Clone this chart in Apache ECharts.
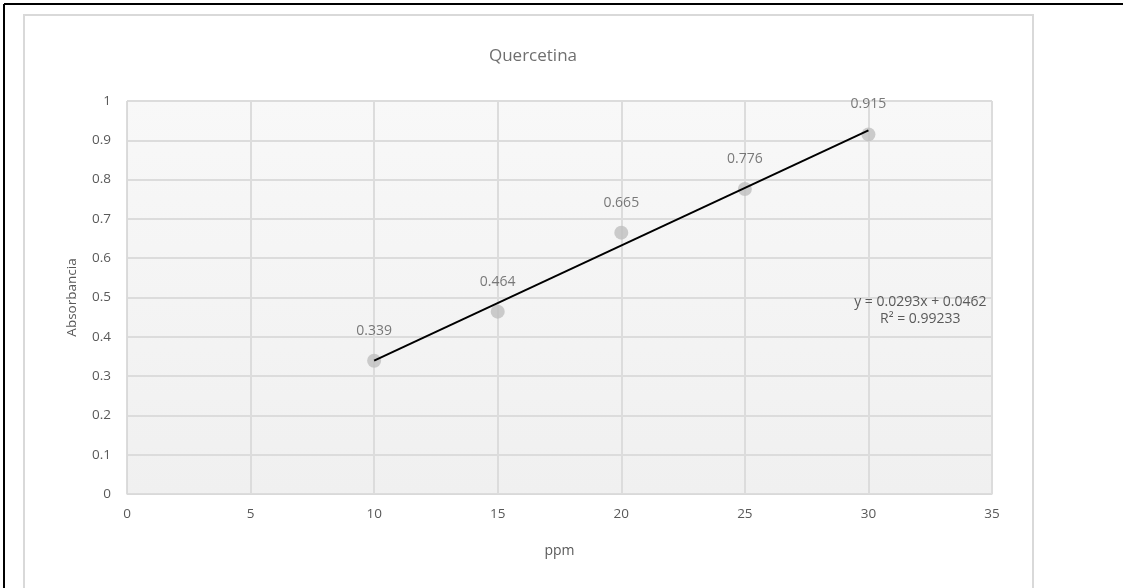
<!DOCTYPE html>
<html><head><meta charset="utf-8">
<script src="https://cdn.jsdelivr.net/npm/echarts@6/dist/echarts.min.js"></script>
<style>html,body{margin:0;padding:0;background:#fff}#c{width:1123px;height:588px}</style>
</head><body><div id="c"></div>
<script>
const ppm = [10, 15, 20, 25, 30];
const absorbancia = [0.339, 0.464, 0.665, 0.776, 0.915];
const slope = 0.0293, intercept = 0.0462;
const trendX = [10, 30];
const eqLines = ['y = 0.0293x + 0.0462', 'R² = 0.99233'];
const chart = echarts.init(document.getElementById('c'));
const txt = '#595959';
const font = "'Open Sans', 'Noto Sans', sans-serif";
chart.setOption({
  animation: false,
  backgroundColor: '#fff',
  title: { text: 'Quercetina', left: 528, top: 43, textAlign: 'center',
    textStyle: { color: '#6f6f6f', fontSize: 17, fontWeight: 'normal', fontFamily: font } },
  graphic: [
    { type: 'rect', shape: { x: 24, y: 15, width: 1009, height: 600 }, style: { fill: 'none', stroke: '#d9d9d9', lineWidth: 2 }, z: -1 },
    { type: 'line', shape: { x1: 4, y1: 4, x2: 1123, y2: 4 }, style: { stroke: '#000', lineWidth: 2 } },
    { type: 'line', shape: { x1: 4, y1: 4, x2: 4, y2: 588 }, style: { stroke: '#000', lineWidth: 2 } }
  ],
  grid: { left: 127, top: 101, width: 865, height: 393, show: true,
    backgroundColor: { type: 'linear', x: 0, y: 0, x2: 0, y2: 1, colorStops: [{offset:0,color:'#f8f8f8'},{offset:1,color:'#f0f0f0'}] },
    borderColor: '#d9d9d9', borderWidth: 1 },
  xAxis: { type: 'value', min: 0, max: 35, interval: 5, name: 'ppm', nameLocation: 'middle', nameGap: 50,
    nameTextStyle: { color: txt, fontSize: 14, fontFamily: font },
    axisLine: { show: true, lineStyle: { color: '#d9d9d9' } }, axisTick: { show: false },
    axisLabel: { color: txt, fontSize: 13.5, fontFamily: font, margin: 13 },
    splitLine: { show: true, lineStyle: { color: '#dcdcdc', width: 2 } } },
  yAxis: { type: 'value', min: 0, max: 1, interval: 0.1, name: 'Absorbancia', nameLocation: 'middle', nameGap: 48,
    nameTextStyle: { color: txt, fontSize: 13.5, fontFamily: font },
    axisLine: { show: true, lineStyle: { color: '#d9d9d9' } }, axisTick: { show: false },
    axisLabel: { color: txt, fontSize: 13.5, fontFamily: font, margin: 16 },
    splitLine: { show: true, lineStyle: { color: '#dcdcdc', width: 2 } } },
  series: [
    { type: 'line', data: trendX.map(x => [x, slope * x + intercept]), symbol: 'none',
      lineStyle: { color: '#000', width: 2 }, z: 3, silent: true,
      markPoint: { symbol: 'rect', symbolSize: 0,
        data: [{ coord: [32.1, 0.468], value: 0 }],
        label: { show: true, position: 'inside', color: txt, fontSize: 14, fontFamily: font, lineHeight: 17, align: 'center',
          formatter: () => eqLines[0] + '\n' + eqLines[1] } } },
    { type: 'scatter', data: ppm.map((x, i) => [x, absorbancia[i]]), symbolSize: 14,
      itemStyle: { color: '#bfbfbf' }, z: 2,
      label: { show: true, position: 'top', distance: 16, color: txt, fontSize: 14, fontFamily: font,
        formatter: p => String(p.value[1]) } }
  ]
});
</script></body></html>
